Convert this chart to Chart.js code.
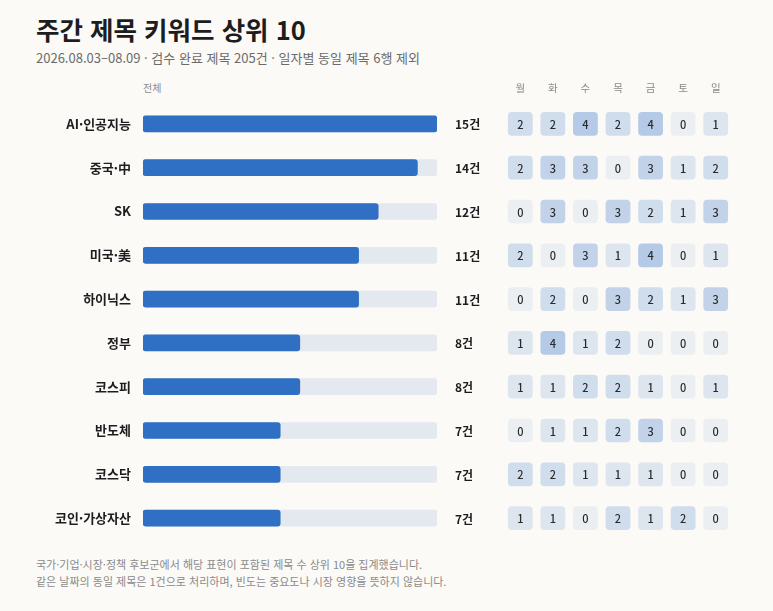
<!DOCTYPE html>
<html lang="ko">
<head>
<meta charset="utf-8">
<script src="https://cdn.jsdelivr.net/npm/chart.js@4.4.1/dist/chart.umd.min.js"></script>
<style>
  html, body { margin: 0; padding: 0; background: #fbfaf7; }
  body { width: 773px; height: 611px; position: relative; overflow: hidden;
         font-family: "Noto Sans CJK KR", "Noto Sans", sans-serif; }
  .title { position: absolute; left: 36px; top: 10px; font-size: 25.5px; font-weight: 700; color: #1d1d1f; margin: 0; }
  .sub { position: absolute; left: 36px; top: 48px; font-size: 13px; color: #6b6b6b; }
  .head { position: absolute; left: 143px; top: 80px; font-size: 10px; color: #8a8a8a; }
  .foot { position: absolute; left: 36px; top: 556px; font-size: 11px; color: #8a8a8a; line-height: 17px; }
  #bars { position: absolute; left: 0; top: 100px; }
  #heat { position: absolute; left: 490px; top: 70px; }
</style>
</head>
<body>
<h1 class="title">주간 제목 키워드 상위 10</h1>
<div class="sub">2026.08.03–08.09 · 검수 완료 제목 205건 · 일자별 동일 제목 6행 제외</div>
<div class="head">전체</div>
<canvas id="bars" width="500" height="442"></canvas>
<canvas id="heat" width="260" height="472"></canvas>
<div class="foot">국가·기업·시장·정책 후보군에서 해당 표현이 포함된 제목 수 상위 10을 집계했습니다.<br>같은 날짜의 동일 제목은 1건으로 처리하며, 빈도는 중요도나 시장 영향을 뜻하지 않습니다.</div>
<script>
const keywords = ['AI·인공지능', '중국·中', 'SK', '미국·美', '하이닉스', '정부', '코스피', '반도체', '코스닥', '코인·가상자산'];
const totals = [15, 14, 12, 11, 11, 8, 8, 7, 7, 7];
const days = ['월', '화', '수', '목', '금', '토', '일'];
// rows = keywords, columns = days
const daily = [
  [2, 2, 4, 2, 4, 0, 1],
  [2, 3, 3, 0, 3, 1, 2],
  [0, 3, 0, 3, 2, 1, 3],
  [2, 0, 3, 1, 4, 0, 1],
  [0, 2, 0, 3, 2, 1, 3],
  [1, 4, 1, 2, 0, 0, 0],
  [1, 1, 2, 2, 1, 0, 1],
  [0, 1, 1, 2, 3, 0, 0],
  [2, 2, 1, 1, 1, 0, 0],
  [1, 1, 0, 2, 1, 2, 0]
];
const maxTotal = Math.max(...totals);
const FONT = '"Noto Sans CJK KR", "Noto Sans", sans-serif';

// value labels right of the track
const totalLabels = {
  id: 'totalLabels',
  afterDatasetsDraw(chart) {
    const { ctx, chartArea } = chart;
    const meta = chart.getDatasetMeta(0);
    ctx.save();
    ctx.font = 'bold 12px ' + FONT;
    ctx.fillStyle = '#1d1d1f';
    ctx.textBaseline = 'middle';
    meta.data.forEach((bar, i) => {
      ctx.fillText(totals[i] + '건', chartArea.right + 18, bar.y + 1);
    });
    ctx.restore();
  }
};

new Chart(document.getElementById('bars'), {
  type: 'bar',
  data: {
    labels: keywords,
    datasets: [
      { data: totals, backgroundColor: '#2f6fc4', barThickness: 16, borderRadius: 3, borderSkipped: false, grouped: false },
      { data: totals.map(() => maxTotal), backgroundColor: '#e4e8ef', barThickness: 16, borderRadius: 3, borderSkipped: false, grouped: false }
    ]
  },
  options: {
    indexAxis: 'y',
    responsive: false,
    animation: false,
    layout: { padding: { top: 2, right: 63, bottom: 2, left: 0 } },
    plugins: { legend: { display: false }, tooltip: { enabled: false } },
    scales: {
      x: { display: false, min: 0, max: maxTotal },
      y: {
        grid: { display: false }, border: { display: false },
        afterFit(scale) { scale.width = 143; scale.paddingTop = 0; scale.paddingBottom = 0; },
        ticks: { padding: 4, color: '#1d1d1f', font: { family: FONT, size: 13, weight: 'bold' } }
      }
    }
  },
  plugins: [totalLabels]
});

// heatmap: one floating-bar dataset per day
function cellColor(v) {
  const a = 0.08 + v * 0.066;
  return `rgba(47,111,196,${a})`;
}
const cellLabels = {
  id: 'cellLabels',
  afterDatasetsDraw(chart) {
    const { ctx } = chart;
    ctx.save();
    ctx.font = '500 11px ' + FONT;
    ctx.fillStyle = '#2a2a2a';
    ctx.textAlign = 'center';
    ctx.textBaseline = 'middle';
    days.forEach((d, di) => {
      chart.getDatasetMeta(di).data.forEach((cell, ri) => {
        const p = cell.getCenterPoint();
        ctx.fillText(String(daily[ri][di]), p.x, p.y + 1);
      });
    });
    ctx.restore();
  }
};

new Chart(document.getElementById('heat'), {
  type: 'bar',
  data: {
    labels: keywords,
    datasets: days.map((d, di) => ({
      label: d,
      data: daily.map(() => [di - 0.37, di + 0.37]),
      backgroundColor: daily.map(r => cellColor(r[di])),
      barThickness: 23,
      borderRadius: 4,
      borderSkipped: false,
      grouped: false
    }))
  },
  options: {
    indexAxis: 'y',
    responsive: false,
    animation: false,
    layout: { padding: { top: 0, right: 18, bottom: 2, left: 14 } },
    plugins: { legend: { display: false }, tooltip: { enabled: false } },
    scales: {
      x: {
        position: 'top', min: -0.5, max: 6.5,
        grid: { display: false }, border: { display: false },
        afterBuildTicks(scale) { scale.ticks = days.map((d, i) => ({ value: i })); },
        afterFit(scale) { scale.height = 32; scale.paddingLeft = 0; scale.paddingRight = 0; },
        ticks: {
          padding: 0, color: '#8a8a8a', font: { family: FONT, size: 10.5 },
          callback: v => days[v] ?? ''
        }
      },
      y: { display: false }
    }
  },
  plugins: [cellLabels]
});
</script>
</body>
</html>
